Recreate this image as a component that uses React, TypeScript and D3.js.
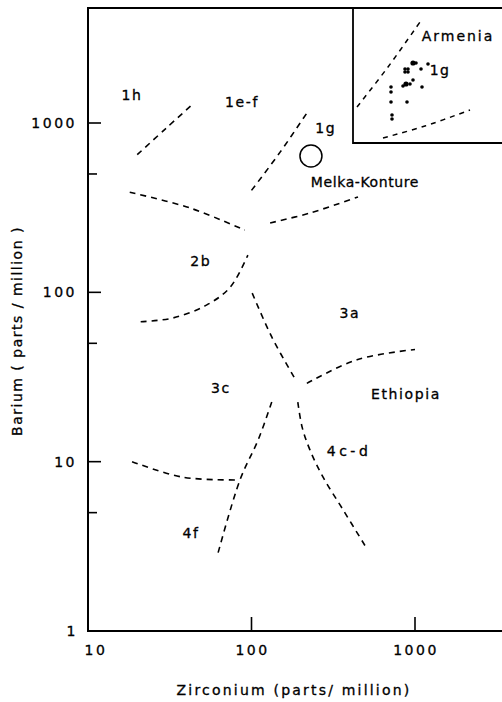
import React from "react";
import * as d3 from "d3";

// ---- Data (Zr ppm, Ba ppm) ----
const xTicks = [10, 100, 1000];
const yMajorTicks = [1, 10, 100, 1000];
const yMinorTicks = [5, 50, 500];

type P = [number, number];

const curve1h: P[] = [[20, 650], [30, 930], [44, 1300]];
const curve1g: P[] = [[100, 400], [150, 675], [220, 1160]];
const curve2bUpper: P[] = [[18, 390], [42, 315], [91, 233]];
const curveMelka: P[] = [[130, 257], [228, 294], [448, 366]];
const curve2bLower: P[] = [[21, 67], [33, 70.5], [53, 84], [74, 107], [95, 166]];
const curve3aLeft: P[] = [[101, 99], [133, 54.5], [184, 31]];
const curveEthiopia: P[] = [[218, 29], [442, 40], [1000, 46]];
const curve3cRight: P[] = [[133, 22.5], [110, 13.5], [85, 7.8], [61.5, 2.74]];
const curve4cd: P[] = [[192, 22.5], [204, 16], [228, 11.7], [274, 8.1], [363, 5.2], [494, 3.2]];
const curve4fUpper: P[] = [[18.6, 10], [38, 8.1], [83, 7.8]];

const curves: P[][] = [
  curve1h, curve1g, curve2bUpper, curveMelka, curve2bLower,
  curve3aLeft, curveEthiopia, curve3cRight, curve4cd, curve4fUpper,
];

const melkaKonture: P = [231, 639];

const zoneLabels = ["1h", "1e-f", "1g", "Melka-Konture", "2b", "3a", "3c", "Ethiopia", "4c-d", "4f"];
const zoneLabelX = [18.6, 87.5, 285, 494, 49, 400, 65, 881, 395, 42.7];
const zoneLabelY = [1463, 1330, 934, 448, 153, 75.5, 27.2, 25.1, 11.56, 3.79];

// Inset (Armenia) in inset units
const insetUpper: P[] = [[5, 36], [36, 76], [68, 121]];
const insetLower: P[] = [[31, 5], [73, 17], [118, 33]];
const insetU = [61, 64, 69, 76, 53, 56, 53, 56, 61, 54, 51, 58, 70, 39, 39, 55, 39, 40, 40];
const insetV = [80, 80, 74, 79, 74, 74, 71, 71, 63, 59, 57, 59, 56, 56, 51, 41, 41, 28, 24];

const FONT = "'DejaVu Sans', 'Open Sans', sans-serif";

function labelSpacing(lab: string) {
  if (lab === "Melka-Konture") return 0.6;
  if (lab === "4c-d") return 3.5;
  return 1.6;
}

export default function App() {
  const x = d3.scaleLog().domain([10, 1000]).range([88, 415]);
  const y = d3.scaleLog().domain([1, 1000]).range([631, 123]);

  const line = d3
    .line<P>()
    .x((d) => x(d[0]))
    .y((d) => y(d[1]))
    .curve(d3.curveCatmullRom.alpha(0.5));

  const ix = d3.scaleLinear().domain([0, 150]).range([352, 502]);
  const iy = d3.scaleLinear().domain([0, 135]).range([143, 8]);
  const iline = d3
    .line<P>()
    .x((d) => ix(d[0]))
    .y((d) => iy(d[1]))
    .curve(d3.curveCatmullRom.alpha(0.5));

  const left = 88, right = 502, top = 8, bottom = 631;
  const txt = { stroke: "#000", strokeWidth: 0.3 };

  return (
    <svg
      width={502}
      height={702}
      style={{ position: "absolute", left: 0, top: 0, background: "#fff" }}
      fontFamily={FONT}
    >
      <rect width={502} height={702} fill="#fff" />
      {/* frame */}
      <path
        d={`M${right},${top}H${left}V${bottom}H${right}`}
        fill="none"
        stroke="#000"
        strokeWidth={2}
      />
      {/* y ticks */}
      {yMajorTicks.filter((t) => t > 1).map((t) => (
        <line key={"ym" + t} x1={left} x2={left + 13} y1={y(t)} y2={y(t)} stroke="#000" strokeWidth={1.6} />
      ))}
      {yMinorTicks.map((t) => (
        <line key={"yn" + t} x1={left} x2={left + 9} y1={y(t)} y2={y(t)} stroke="#000" strokeWidth={1.6} />
      ))}
      {yMajorTicks.map((t) => (
        <text key={"yl" + t} x={t === 1 ? 78 : 77} y={y(t)} dy="0.36em" textAnchor="end" fontSize={14} letterSpacing={2.5} {...txt}>
          {t}
        </text>
      ))}
      {/* x ticks */}
      {xTicks.filter((t) => t > 10).map((t) => (
        <line key={"xt" + t} x1={x(t)} x2={x(t)} y1={bottom} y2={bottom - 14} stroke="#000" strokeWidth={1.6} />
      ))}
      {xTicks.map((t) => (
        <text key={"xl" + t} x={x(t) + (t === 10 ? 8 : 1)} y={655} textAnchor="middle" fontSize={14} letterSpacing={2.5} {...txt}>
          {t}
        </text>
      ))}
      {/* axis titles */}
      <text x={294} y={695} textAnchor="middle" fontSize={14} letterSpacing={2.2} {...txt}>
        Zirconium (parts/ million)
      </text>
      <text
        transform={`translate(22,331) rotate(-90)`}
        textAnchor="middle"
        fontSize={14}
        letterSpacing={1.5}
        {...txt}
      >
        Barium ( parts / million )
      </text>

      {/* boundaries */}
      {curves.map((c, i) => (
        <path
          key={"c" + i}
          d={line(c) || ""}
          fill="none"
          stroke="#000"
          strokeWidth={1.6}
          strokeDasharray="6,5"
        />
      ))}

      {/* Melka-Konture circle */}
      <circle cx={x(melkaKonture[0])} cy={y(melkaKonture[1])} r={11} fill="none" stroke="#000" strokeWidth={1.5} />

      {zoneLabels.map((lab, i) => (
        <text
          key={"zl" + i}
          x={x(zoneLabelX[i])}
          y={y(zoneLabelY[i])}
          dy="0.36em"
          textAnchor="middle"
          fontSize={14}
          letterSpacing={labelSpacing(lab)}
          {...txt}
        >
          {lab}
        </text>
      ))}

      {/* inset */}
      <rect x={353} y={9} width={149} height={133} fill="#fff" />
      <path d={`M353,${top}V143H${right}`} fill="none" stroke="#000" strokeWidth={1.8} />
      <path d={iline(insetUpper) || ""} fill="none" stroke="#000" strokeWidth={1.5} strokeDasharray="5,5" />
      <path d={iline(insetLower) || ""} fill="none" stroke="#000" strokeWidth={1.5} strokeDasharray="5,5" />
      {insetU.map((u, i) => (
        <circle key={"ip" + i} cx={ix(u)} cy={iy(insetV[i])} r={i === 9 || i === 0 ? 2.6 : 1.8} fill="#000" />
      ))}
      <text x={458} y={36} dy="0.36em" textAnchor="middle" fontSize={14} letterSpacing={2} {...txt}>
        Armenia
      </text>
      <text x={ix(88)} y={iy(73)} dy="0.36em" textAnchor="middle" fontSize={14} letterSpacing={1.4} {...txt}>
        1g
      </text>
    </svg>
  );
}
